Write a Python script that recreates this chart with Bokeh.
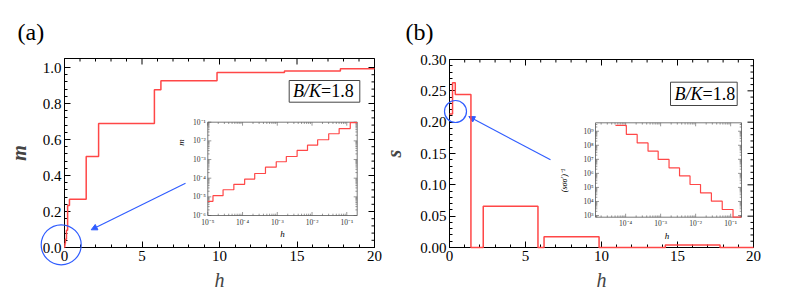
import numpy as np
from bokeh.plotting import figure
from bokeh.layouts import row
from bokeh.models import (Range1d, FixedTicker, PrintfTickFormatter,
                          LogScale, Arrow, NormalHead)
from bokeh.core.properties import value
from bokeh.embed import file_html
from bokeh.resources import INLINE

# ---------------- data ----------------
# panel (a): magnetisation m versus field h (step edges / levels)
h_a = [0.0, 0.015, 0.03, 0.06, 0.126, 0.20, 0.32, 1.40, 2.20, 5.80, 6.22, 9.84, 14.19, 17.80, 20.0]
m_a = [0.0, 0.0115, 0.024, 0.046, 0.0955, 0.233, 0.268, 0.505, 0.689, 0.876, 0.926, 0.972, 0.981, 0.993, 0.993]

# panel (b): s versus h
h_b = [0.0, 0.20, 0.38, 1.41, 2.22, 5.82, 6.22, 9.84, 14.20, 17.80, 20.0]
s_b = [0.213, 0.263, 0.244, 0.0, 0.066, 0.0, 0.017, 0.0, 0.004, 0.0, 0.0]

# inset (a): log-log m versus h
ins_a_h = [1.0e-5, 1.41e-5, 2.75e-5, 5.62e-5, 1.15e-4, 2.24e-4, 4.57e-4, 9.33e-4,
           1.82e-3, 3.72e-3, 7.41e-3, 1.45e-2, 3.02e-2, 6.03e-2, 0.126, 0.2]
ins_a_m = [5.75e-6, 1.15e-5, 2.40e-5, 4.68e-5, 8.9e-5, 1.78e-4, 3.89e-4, 7.59e-4,
           1.45e-3, 3.09e-3, 5.89e-3, 1.15e-2, 2.40e-2, 4.57e-2, 9.55e-2, 9.55e-2]

# inset (b): log-log (s_sigma sigma')^-1 versus h
ins_b_h = [5.13e-5, 1.05e-4, 2.14e-4, 4.37e-4, 8.51e-4, 1.74e-3, 3.47e-3, 6.92e-3,
           1.38e-2, 2.82e-2, 5.75e-2, 0.117, 0.2]
ins_b_s = [2.57e9, 5.89e8, 1.48e8, 3.80e7, 9.77e6, 2.45e6, 6.61e5, 1.62e5,
           4.07e4, 1.05e4, 2.69e3, 5.0e2, 5.0e2]

# tick values / labels
main_xticks = [0, 5, 10, 15, 20]
a_yticks = [0.0, 0.2, 0.4, 0.6, 0.8, 1.0]
b_yticks = [0.0, 0.05, 0.10, 0.15, 0.20, 0.25, 0.30]
ins_a_xticks = [1e-5, 1e-4, 1e-3, 1e-2, 1e-1]
ins_a_xlabels = ["10⁻⁵", "10⁻⁴", "10⁻³", "10⁻²", "10⁻¹"]
ins_a_yticks = [1e-6, 1e-5, 1e-4, 1e-3, 1e-2, 1e-1]
ins_a_ylabels = ["10⁻⁶", "10⁻⁵", "10⁻⁴", "10⁻³", "10⁻²", "10⁻¹"]
ins_b_xticks = [1e-4, 1e-3, 1e-2, 1e-1]
ins_b_xlabels = ["10⁻⁴", "10⁻³", "10⁻²", "10⁻¹"]
ins_b_yticks = [1e3, 1e4, 1e5, 1e6, 1e7, 1e8, 1e9]
ins_b_ylabels = ["10³", "10⁴", "10⁵", "10⁶", "10⁷", "10⁸", "10⁹"]

RED = "#ff4747"
BLUE = "#2f5cff"
SERIF = "Liberation Serif"
INK = "#555555"
H = 297


def minor_between(majors, n=5):
    out = []
    for a, b in zip(majors[:-1], majors[1:]):
        step = (b - a) / n
        out += [a + k * step for k in range(1, n)]
    return out


def style_axis(ax, majors, fmt, bounds):
    ax.ticker = FixedTicker(ticks=majors, minor_ticks=minor_between(majors))
    ax.formatter = PrintfTickFormatter(format=fmt)
    ax.bounds = bounds
    ax.fixed_location = 0
    ax.major_tick_in = 6
    ax.major_tick_out = 0
    ax.minor_tick_in = 3
    ax.minor_tick_out = 0
    ax.axis_line_color = "black"
    ax.major_tick_line_color = "black"
    ax.minor_tick_line_color = "black"
    ax.major_label_text_font = SERIF
    ax.major_label_text_color = "black"
    ax.major_label_text_font_size = "15px"
    ax.major_label_standoff = 3


def log_ticks(lo, hi):
    majors, minors = [], []
    for d in range(int(np.floor(np.log10(lo))) - 1, int(np.ceil(np.log10(hi))) + 1):
        for k in range(1, 10):
            v = k * 10.0 ** d
            if lo * 0.999 <= v <= hi * 1.001:
                (majors if k == 1 else minors).append(v)
    return majors, minors


def panel(X0, width, frame, xr, yr, xticks, yticks, xfmt, yfmt, ylabel, ylab_standoff,
          box, xdom, ydom):
    fl, fr, ft, fb = frame
    X1 = X0 + width
    ux = (xr[1] - xr[0]) / (fr - fl)
    uy = (yr[1] - yr[0]) / (fb - ft)
    p = figure(width=width, height=H,
               x_range=Range1d(xr[0] - (fl - X0) * ux, xr[1] + (X1 - fr) * ux),
               y_range=Range1d(yr[0] - (H - fb) * uy, yr[1] + ft * uy),
               output_backend="svg", toolbar_location=None, min_border=0,
               background_fill_color="white", border_fill_color="white",
               outline_line_color=None)
    p.title.visible = False
    p.xgrid.visible = False
    p.ygrid.visible = False
    xa = p.xaxis[0]
    ya = p.yaxis[0]
    style_axis(xa, xticks, xfmt, xr)
    style_axis(ya, yticks, yfmt, yr)
    xa.axis_label = "h"
    xa.axis_label_text_font = SERIF
    xa.axis_label_text_font_style = "italic"
    xa.axis_label_text_font_size = "20px"
    xa.axis_label_standoff = 5
    ya.axis_label = ylabel
    ya.axis_label_text_font = SERIF
    ya.axis_label_text_font_style = "bold italic"
    ya.axis_label_text_font_size = "20px"
    ya.axis_label_standoff = ylab_standoff

    bl, br, bt, bb = box
    lx0, lx1 = np.log10(xdom[0]), np.log10(xdom[1])
    ly0, ly1 = np.log10(ydom[0]), np.log10(ydom[1])
    kx = (lx1 - lx0) / (br - bl)
    ky = (ly1 - ly0) / (bb - bt)
    p.extra_x_ranges = {"px": Range1d(X0, X1),
                        "ix": Range1d(10 ** (lx0 - (bl - X0) * kx), 10 ** (lx1 + (X1 - br) * kx))}
    p.extra_y_ranges = {"py": Range1d(H, 0),
                        "iy": Range1d(10 ** (ly0 - (H - bb) * ky), 10 ** (ly1 + bt * ky))}
    p.extra_x_scales = {"ix": LogScale()}
    p.extra_y_scales = {"iy": LogScale()}

    # top / right frame lines with mirrored inward ticks
    p.quad(left=xr[0], right=xr[1], bottom=yr[0], top=yr[1], fill_color=None,
           line_color="black", line_width=1)
    xmin = minor_between(xticks)
    ymin = minor_between(yticks)
    for vals, L in ((xticks, 6), (xmin, 3)):
        n = len(vals)
        p.segment(x0=vals, x1=vals, y0=[ft] * n, y1=[ft + L] * n, y_range_name="py",
                  line_color="black", line_width=1)
    for vals, L in ((yticks, 6), (ymin, 3)):
        n = len(vals)
        p.segment(x0=[fr] * n, x1=[fr - L] * n, y0=vals, y1=vals, x_range_name="px",
                  line_color="black", line_width=1)
    return p


def inset(p, box, xdom, ydom, xs, ys, xticks, xlabels, yticks, ylabels):
    bl, br, bt, bb = box
    p.quad(left=xdom[0], right=xdom[1], bottom=ydom[0], top=ydom[1],
           x_range_name="ix", y_range_name="iy", fill_color="white",
           line_color=INK, line_width=0.8)
    xmaj, xmin = log_ticks(*xdom)
    ymaj, ymin = log_ticks(*ydom)
    for vals, L in ((xmaj, 3.5), (xmin, 1.8)):
        n = len(vals)
        p.segment(x0=vals, x1=vals, y0=[bb] * n, y1=[bb - L] * n,
                  x_range_name="ix", y_range_name="py", line_color=INK, line_width=0.6)
        p.segment(x0=vals, x1=vals, y0=[bt] * n, y1=[bt + L] * n,
                  x_range_name="ix", y_range_name="py", line_color=INK, line_width=0.6)
    for vals, L in ((ymaj, 3.5), (ymin, 1.8)):
        n = len(vals)
        p.segment(x0=[bl] * n, x1=[bl + L] * n, y0=vals, y1=vals,
                  x_range_name="px", y_range_name="iy", line_color=INK, line_width=0.6)
        p.segment(x0=[br] * n, x1=[br - L] * n, y0=vals, y1=vals,
                  x_range_name="px", y_range_name="iy", line_color=INK, line_width=0.6)
    yc = np.clip(np.array(ys, dtype=float), ydom[0], ydom[1])
    p.step(x=xs, y=yc, mode="after", x_range_name="ix", y_range_name="iy",
           line_color=RED, line_width=1.2)
    p.text(x=xticks, y=[bb + 2] * len(xticks), text=xlabels,
           x_range_name="ix", y_range_name="py", text_font=value(SERIF),
           text_font_size="7.5px", text_align="center", text_baseline="top",
           text_color="#333333")
    p.text(x=[bl - 2] * len(yticks), y=yticks, text=ylabels,
           x_range_name="px", y_range_name="iy", text_font=value(SERIF),
           text_font_size="7.5px", text_align="right", text_baseline="middle",
           text_color="#333333")


def ptext(p, x, y, t, size, style="normal", align="center", angle=0.0, color="black"):
    p.text(x=[x], y=[y], text=[t], x_range_name="px", y_range_name="py",
           text_font=value(SERIF), text_font_size=size, text_font_style=style,
           text_align=align, text_baseline="middle", angle=angle, text_color=color)


def circle_ann(p, cx, cy, r):
    p.circle(x=[cx], y=[cy], radius=r, x_range_name="px", y_range_name="py",
             fill_color=None, line_color=BLUE, line_width=1.2, level="overlay")


def arrow(p, xs, ys, xe, ye):
    p.add_layout(Arrow(x_start=xs, y_start=ys, x_end=xe, y_end=ye,
                       x_range_name="px", y_range_name="py",
                       line_color=BLUE, line_width=1.1,
                       end=NormalHead(size=6, fill_color=BLUE, line_color=BLUE)))


def bk_box(p, l, r, t, b, split):
    p.quad(left=l, right=r, top=t, bottom=b, x_range_name="px", y_range_name="py",
           fill_color="white", line_color="#444444", line_width=1)
    ym = (t + b) / 2
    ptext(p, split, ym, "B/K", "18px", "italic", "right")
    ptext(p, split, ym, "=1.8", "18px", "normal", "left")


# ---------------- panel (a) ----------------
frame_a = (64, 374, 58, 247)
box_a = (207.3, 356.7, 121.7, 215.0)
xdom_a = (1e-5, 10 ** -0.7)
ydom_a = (1e-6, 1e-1)
pa = panel(0, 383, frame_a, (0, 20), (0, 1.05), main_xticks, a_yticks, "%d", "%.1f",
           "m", 10, box_a, xdom_a, ydom_a)
pa.step(x=h_a, y=m_a, mode="after", line_color=RED, line_width=1.5, level="overlay")
inset(pa, box_a, xdom_a, ydom_a, ins_a_h, ins_a_m,
      ins_a_xticks, ins_a_xlabels, ins_a_yticks, ins_a_ylabels)
ptext(pa, 282, 233.5, "h", "9px", "italic")
ptext(pa, 180, 142, "m", "9px", "italic", angle=np.pi / 2)
bk_box(pa, 288.7, 359.3, 80, 101.7, 320.5)
circle_ann(pa, 60.7, 244.3, 20)
arrow(pa, 185, 182.7, 90.7, 229.3)
ptext(pa, 17, 31, "(a)", "24px", align="left")

# ---------------- panel (b) ----------------
frame_b = (449, 753, 59, 247)
box_b = (595.0, 741.0, 122.3, 216.7)
xdom_b = (10 ** -4.86, 10 ** -0.69)
ydom_b = (10 ** 2.88, 10 ** 9.6)
pb = panel(383, 405, frame_b, (0, 20), (0, 0.30), main_xticks, b_yticks, "%d", "%.2f",
           "s", 12, box_b, xdom_b, ydom_b)
pb.step(x=h_b, y=s_b, mode="after", line_color=RED, line_width=1.5, level="overlay")
inset(pb, box_b, xdom_b, ydom_b, ins_b_h, ins_b_s,
      ins_b_xticks, ins_b_xlabels, ins_b_yticks, ins_b_ylabels)
ptext(pb, 666.5, 235, "h", "9px", "italic")
ptext(pb, 564, 180, "(sσσ′)⁻¹", "8px", "italic", angle=np.pi / 2)
bk_box(pb, 670, 736.7, 81.7, 105, 702)
circle_ann(pb, 455, 111, 11)
arrow(pb, 550, 159.3, 468.3, 116)
ptext(pb, 405, 31, "(b)", "24px", align="left")

layout = row(pa, pb, spacing=0)
open("out.html", "w").write(file_html(layout, INLINE))
